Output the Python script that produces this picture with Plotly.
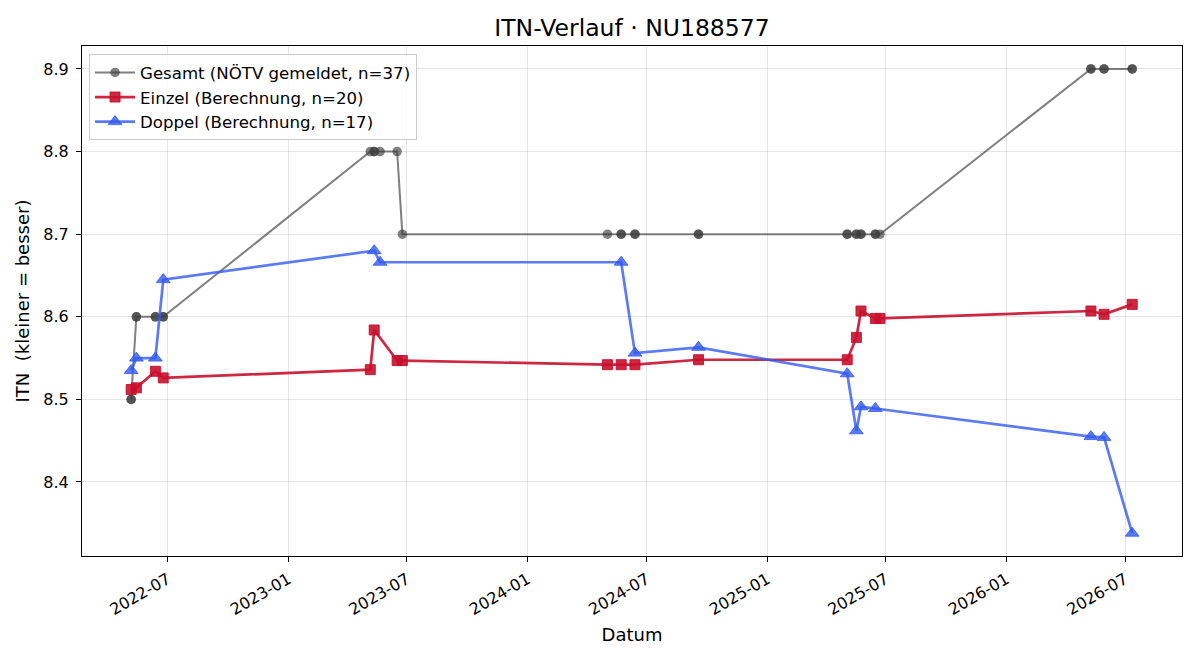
import plotly.graph_objects as go

# ---- data ----
einzel_dates = ["2022-05-06", "2022-05-14", "2022-06-12", "2022-06-24",
                "2023-05-06", "2023-05-12", "2023-06-16", "2023-06-24",
                "2024-05-02", "2024-05-23", "2024-06-13", "2024-09-18",
                "2025-05-03", "2025-05-17", "2025-05-24", "2025-06-15", "2025-06-22",
                "2026-05-10", "2026-05-30", "2026-07-12"]
einzel_itn = [8.512, 8.514, 8.534, 8.526,
              8.536, 8.584, 8.547, 8.547,
              8.542, 8.542, 8.542, 8.548,
              8.548, 8.575, 8.607, 8.598, 8.598,
              8.607, 8.603, 8.615]

doppel_dates = ["2022-05-06", "2022-05-14", "2022-06-12", "2022-06-24",
                "2023-05-12", "2023-05-21",
                "2024-05-23", "2024-06-13", "2024-09-18",
                "2025-05-03", "2025-05-17", "2025-05-24", "2025-06-15",
                "2026-05-10", "2026-05-30", "2026-07-12"]
doppel_itn = [8.535, 8.550, 8.550, 8.645,
              8.680, 8.666,
              8.666, 8.556, 8.563,
              8.531, 8.462, 8.491, 8.489,
              8.455, 8.454, 8.338]

gesamt_dates = ["2022-05-06", "2022-05-06", "2022-05-14", "2022-05-14",
                "2022-06-12", "2022-06-12", "2022-06-24", "2022-06-24",
                "2023-05-06", "2023-05-12", "2023-05-12", "2023-05-21",
                "2023-06-16", "2023-06-24",
                "2024-05-02", "2024-05-23", "2024-05-23", "2024-06-13", "2024-06-13",
                "2024-09-18", "2024-09-18",
                "2025-05-03", "2025-05-03", "2025-05-17", "2025-05-17",
                "2025-05-24", "2025-05-24", "2025-06-15", "2025-06-15", "2025-06-22",
                "2026-05-10", "2026-05-10", "2026-05-30", "2026-05-30",
                "2026-07-12", "2026-07-12"]
gesamt_itn = [8.5, 8.5, 8.6, 8.6,
              8.6, 8.6, 8.6, 8.6,
              8.8, 8.8, 8.8, 8.8,
              8.8, 8.7,
              8.7, 8.7, 8.7, 8.7, 8.7,
              8.7, 8.7,
              8.7, 8.7, 8.7, 8.7,
              8.7, 8.7, 8.7, 8.7, 8.7,
              8.9, 8.9, 8.9, 8.9,
              8.9, 8.9]

names = ["Gesamt (NÖTV gemeldet, n=37)",
         "Einzel (Berechnung, n=20)",
         "Doppel (Berechnung, n=17)"]

title = "ITN-Verlauf · NU188577"
x_title = "Datum"
y_title = "ITN\u00a0 (kleiner = besser)"
y_ticks = [8.4, 8.5, 8.6, 8.7, 8.8, 8.9]

# ---- styles ----
gray = "rgba(60,60,60,0.65)"
red = "rgba(200,16,46,0.9)"
blue = "rgba(50,90,240,0.8)"
FONT = "DejaVu Sans"

fig = go.Figure()
fig.add_trace(go.Scatter(
    x=gesamt_dates, y=gesamt_itn, name=names[0], mode="lines+markers",
    line=dict(color=gray, width=2),
    marker=dict(symbol="circle", size=9.5, color=gray, line=dict(width=0)),
))
fig.add_trace(go.Scatter(
    x=einzel_dates, y=einzel_itn, name=names[1], mode="lines+markers",
    line=dict(color=red, width=2.7),
    marker=dict(symbol="square", size=10, color=red, line=dict(width=1, color=red)),
))
fig.add_trace(go.Scatter(
    x=doppel_dates, y=doppel_itn, name=names[2], mode="lines+markers",
    line=dict(color=blue, width=2.7),
    marker=dict(symbol="triangle-up", size=12, color=blue, line=dict(width=1, color=blue)),
))

axis_common = dict(
    showline=True, linecolor="black", linewidth=1, mirror=True,
    ticks="outside", ticklen=5, tickwidth=1, tickcolor="black",
    showgrid=True, gridcolor="rgba(0,0,0,0.1)", gridwidth=1,
    zeroline=False, tickfont=dict(family=FONT, size=16, color="black"),
)

fig.update_layout(
    width=1200, height=660,
    margin=dict(l=82, r=18, t=46, b=104),
    paper_bgcolor="white", plot_bgcolor="white",
    font=dict(family=FONT, color="black"),
    title=dict(text=title, x=0.5, xref="paper", xanchor="center",
               y=1 - 28 / 660, yref="container", yanchor="middle",
               font=dict(family=FONT, size=23.5, color="black")),
    xaxis=dict(
        **axis_common,
        type="date", range=["2022-02-20", "2026-09-26"],
        tick0="2022-01-01", dtick="M6", tickformat="%Y-%m", tickangle=-30,
        ticklabelstandoff=2,
        title=dict(text=x_title, font=dict(family=FONT, size=18), standoff=10),
    ),
    yaxis=dict(
        **axis_common,
        range=[8.3104, 8.9278], tickvals=y_ticks,
        ticktext=[f"{v:.1f}" for v in y_ticks],
        ticklabelstandoff=4,
        title=dict(text=y_title, font=dict(family=FONT, size=18), standoff=9),
    ),
    legend=dict(
        x=0.0064, y=0.984, xanchor="left", yanchor="top",
        bgcolor="rgba(255,255,255,0.8)", bordercolor="#cccccc", borderwidth=1,
        font=dict(family=FONT, size=16.6, color="black"),
        itemwidth=40, tracegroupgap=0,
    ),
    showlegend=True,
)

fig.write_html("out.html")
